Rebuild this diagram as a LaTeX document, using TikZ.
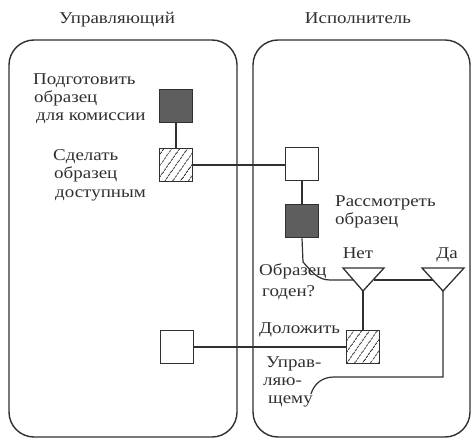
\documentclass[tikz,border=0pt]{standalone}
\usepackage{fontspec}
\setmainfont[FakeStretch=1.15]{Liberation Serif}
\usetikzlibrary{patterns.meta}
\definecolor{ink}{HTML}{303030}
\definecolor{darkfill}{HTML}{5E5E5E}
\begin{document}
\begin{tikzpicture}[x=1pt,y=-1pt,
  lane/.style={draw=ink,line width=1.4pt,rounded corners=25pt},
  conn/.style={draw=ink,line width=1.2pt},
  boxbase/.style={draw=ink,line width=1.8pt,minimum size=33pt,inner sep=0pt},
  darkbox/.style={boxbase,fill=darkfill},
  whitebox/.style={boxbase,fill=white},
  hatchbox/.style={boxbase,pattern={Lines[angle=55,distance=6.5pt,line width=1pt]},pattern color=ink},
  lbl/.style={anchor=base west,inner sep=0pt,text=ink,font=\fontsize{16.5}{18}\selectfont},
  lblc/.style={anchor=base,inner sep=0pt,text=ink,font=\fontsize{16.5}{18}\selectfont}]
\useasboundingbox (0,0) rectangle (473,438);
% lanes
\draw[lane] (9,40) rectangle (237,437);
\draw[lane] (253,40) rectangle (470,437);
% titles
\node[lblc] (t1) at (117,24) {Управляющий};
\node[lblc] (t2) at (358,24) {Исполнитель};
% boxes
\node[darkbox]  (prep)   at (176,106) {};
\node[hatchbox] (make)   at (176,165) {};
\node[whitebox] (recv)   at (302,164) {};
\node[darkbox]  (review) at (302,221) {};
\node[hatchbox] (report) at (363,347) {};
\node[whitebox] (ret)    at (177,347) {};
% triangles
\coordinate (netTL) at (343,268); \coordinate (netTR) at (384,268); \coordinate (netA) at (363,291);
\coordinate (daTL) at (422,268);  \coordinate (daTR) at (464,268);  \coordinate (daA) at (443,291);
\draw[conn,line width=1.3pt] (netTL) -- (netTR) -- (netA) -- cycle;
\draw[conn,line width=1.3pt] (daTL) -- (daTR) -- (daA) -- cycle;
\coordinate (netL) at (353.4,280); \coordinate (netR) at (373.6,280);
\coordinate (daL) at (432.5,280);
% labels
\node[lbl] (l1a) at (33,85) {Подготовить};
\node[lbl] (l1b) at (34,103) {образец};
\node[lbl] (l1c) at (36,121) {для комиссии};
\node[lbl] (l2a) at (53,161) {Сделать};
\node[lbl] (l2b) at (54,179) {образец};
\node[lbl] (l2c) at (55,197) {доступным};
\node[lbl] (l3a) at (335,207) {Рассмотреть};
\node[lbl] (l3b) at (335,225) {образец};
\node[lblc] (lnet) at (358,258) {Нет};
\node[lblc] (lda) at (447,258) {Да};
\node[lbl] (l4a) at (259,275) {Образец};
\node[lbl] (l4b) at (262,296) {годен?};
\node[lbl] (l5) at (259,333) {Доложить};
\node[lbl] (l6a) at (266,367) {Управ-};
\node[lbl] (l6b) at (263,385) {ляю-};
\node[lbl] (l6c) at (268,403) {щему};
% connectors
\draw[conn] (prep) -- (make);
\draw[conn] (make.east) -- (recv.west |- make.east);
\draw[conn] (recv) -- (review);
\coordinate (c1) at (303,262);
\coordinate (c2) at (330,280);
\draw[conn] (review.south) -- (c1) .. controls (312,272) and (318,280) .. (c2) -- (netL);
\draw[conn] (netR) -- (daL);
\draw[conn] (netA) -- (report.north);
\coordinate (d1) at (443,377);
\coordinate (d2) at (334,377);
\coordinate (d3) at (311,394);
\draw[conn] (daA) -- (d1) -- (d2) .. controls (322,377) and (314,384) .. (d3);
\draw[conn] (ret.east) -- (report.west |- ret.east);
\end{tikzpicture}
\end{document}
